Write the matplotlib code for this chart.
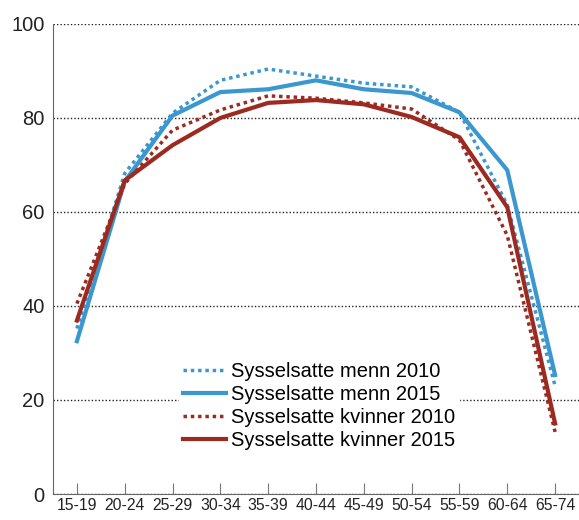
import matplotlib.pyplot as plt

plt.rcParams['font.family'] = ['Liberation Sans', 'DejaVu Sans']

age_groups = ['15-19', '20-24', '25-29', '30-34', '35-39', '40-44',
              '45-49', '50-54', '55-59', '60-64', '65-74']
menn_2010 = [35.2, 68.2, 81.0, 88.0, 90.4, 88.9, 87.4, 86.6, 81.2, 61.5, 23.0]
menn_2015 = [32.5, 66.5, 80.5, 85.5, 86.1, 88.0, 86.1, 85.3, 81.2, 68.9, 25.3]
kvinner_2010 = [40.5, 66.0, 77.4, 81.7, 84.7, 84.2, 83.2, 81.9, 75.3, 55.0, 13.2]
kvinner_2015 = [36.9, 66.7, 74.2, 80.0, 83.2, 83.8, 82.9, 80.2, 75.9, 61.0, 15.0]
labels = ['Sysselsatte menn 2010', 'Sysselsatte menn 2015',
          'Sysselsatte kvinner 2010', 'Sysselsatte kvinner 2015']

blue = '#3b97cf'
red = '#9c2a20'

fig = plt.figure(figsize=(5.79, 5.20), dpi=100)
ax = fig.add_axes([0.0915, 0.05, 0.9085, 0.904])

x = range(len(age_groups))
ax.plot(x, menn_2010, color=blue, lw=2.5, ls=(0, (1, 1.1)), label=labels[0])
ax.plot(x, menn_2015, color=blue, lw=3.0, label=labels[1])
ax.plot(x, kvinner_2010, color=red, lw=2.5, ls=(0, (1, 1.1)), label=labels[2])
ax.plot(x, kvinner_2015, color=red, lw=3.0, label=labels[3])

ax.set_xlim(-0.5, 10.5)
ax.set_ylim(0, 100)
ax.set_yticks([0, 20, 40, 60, 80, 100])
ax.set_xticks(list(x))
ax.set_xticklabels(age_groups, fontsize=11.3)
ax.tick_params(axis='y', length=0, labelsize=14.5, pad=6, colors='#222222')
ax.tick_params(axis='x', direction='in', length=8, pad=3, colors='#777777', labelcolor='#222222')

ax.yaxis.grid(True, color='#222222', ls=(0, (1, 1.5)), lw=1.0)
ax.set_axisbelow(True)
for s in ['top', 'right']:
    ax.spines[s].set_visible(False)
ax.spines['left'].set_color('#666666')
ax.spines['bottom'].set_color('#666666')

leg = ax.legend(loc='upper left', bbox_to_anchor=(0.24, 0.29), fontsize=14.5,
                frameon=True, framealpha=1, edgecolor='white', fancybox=False,
                handlelength=2.1, handletextpad=0.25, labelspacing=0.2,
                borderpad=0.2, borderaxespad=0)

fig.savefig('out.png', dpi=100)
